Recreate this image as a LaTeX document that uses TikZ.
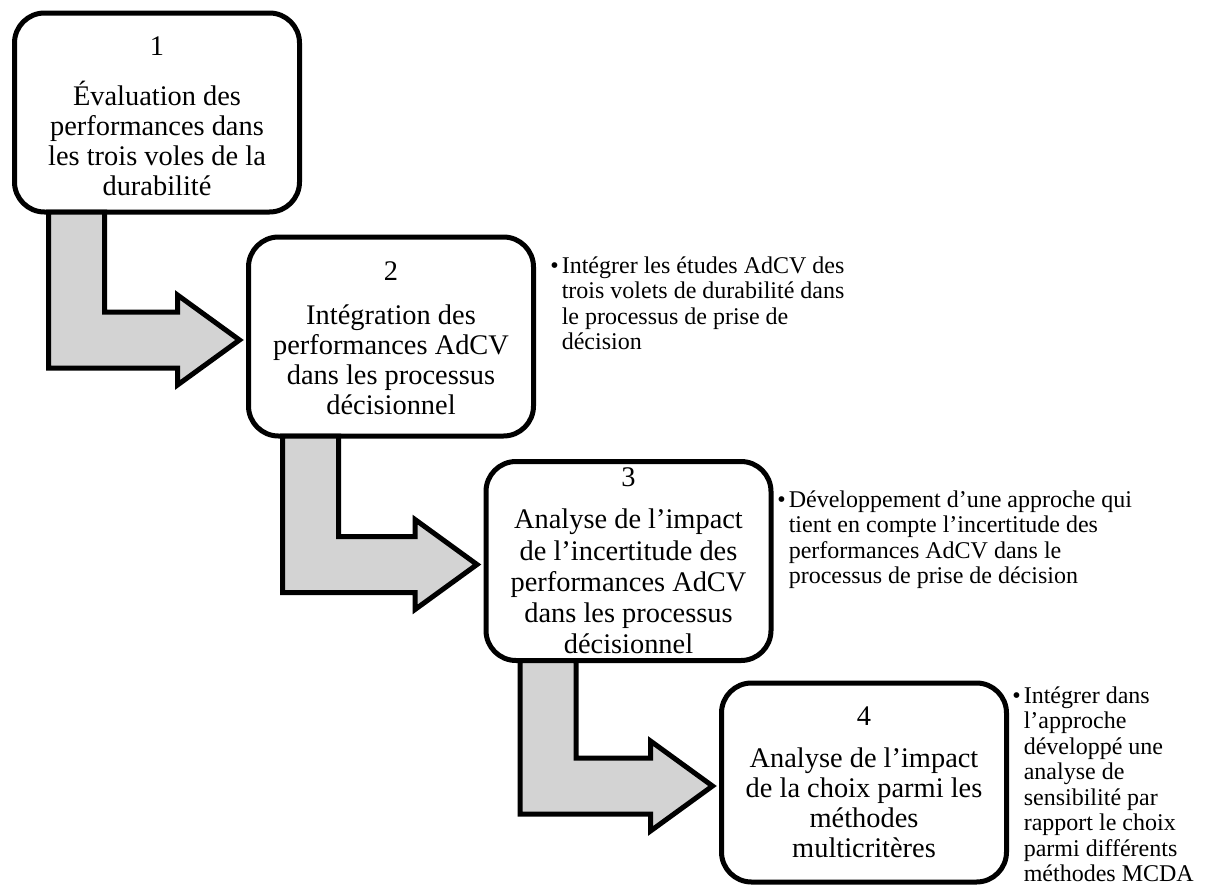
\documentclass[tikz,border=0pt]{standalone}
\usepackage{fontspec}
\setmainfont{Liberation Serif}
\usetikzlibrary{calc}
\definecolor{arrowfill}{RGB}{211,211,211}
\tikzset{
  stagebox/.style={draw, line width=2.5pt, rounded corners=15pt, fill=white,
    minimum width=142.5pt, minimum height=99.5pt, inner sep=0pt, outer sep=0pt},
  stagetext/.style={align=center, inner sep=0pt, font=\fontsize{14.2}{15}\selectfont},
  notetext/.style={anchor=north west, inner sep=0pt, font=\fontsize{12}{12.75}\selectfont},
  stagearrow/.style={draw, line width=2.5pt, fill=arrowfill, line join=miter},
}
% bent block arrow from the bottom of one stage to the left side of the next
\newcommand\stagelink[2]{%
  \draw[stagearrow] let \p1=(#1.south west), \p2=(#2.west) in
    (\x1+17pt,\y1) -- (\x1+17pt,\y2-15.75pt) -- (\x2-35.5pt,\y2-15.75pt)
    -- (\x2-35.5pt,\y2-24.25pt) -- (\x2-4.5pt,\y2-1.75pt)
    -- (\x2-35.5pt,\y2+20.75pt) -- (\x2-35.5pt,\y2+12.25pt)
    -- (\x1+45pt,\y2+12.25pt) -- (\x1+45pt,\y1) -- cycle;}
\begin{document}
\begin{tikzpicture}[x=0.5pt, y=-0.5pt]
\useasboundingbox (0,0) rectangle (1215,894);

% stages
\node[stagebox] (b1) at (157,112.5) {};
\node[stagebox] (b2) at (391,336.5) {};
\node[stagebox] (b3) at (628.5,561) {};
\node[stagebox] (b4) at (864,782.5) {};

% arrows between stages
\stagelink{b1}{b2}
\stagelink{b2}{b3}
\stagelink{b3}{b4}

% stage captions
\node[stagetext] (t1) at ([yshift=-2pt]b1.center) {1\\[10pt]Évaluation des\\performances dans\\les trois voles de la\\durabilité};
\node[stagetext] (t2) at ([yshift=-1pt]b2.center) {2\\[7pt]Intégration des\\performances AdCV\\dans les processus\\décisionnel};
\node[stagetext, font=\fontsize{14.2}{15.6}\selectfont] (t3) at (b3.center) {3\\[5.5pt]Analyse de l’impact\\de l’incertitude des\\performances AdCV\\dans les processus\\décisionnel};
\node[stagetext] (t4) at (b4.center) {4\\[6pt]Analyse de l’impact\\de la choix parmi les\\méthodes\\multicritères};

% side notes
\node[notetext] (n2) at (550,255) {\begin{tabular}{@{}l@{\hspace{1.5pt}}l@{}}
  •&Intégrer les études AdCV des\\
  &trois volets de durabilité dans\\
  &le processus de prise de\\
  &décision\end{tabular}};
\node[notetext] (n3) at (777,489) {\begin{tabular}{@{}l@{\hspace{1.5pt}}l@{}}
  •&Développement d’une approche qui\\
  &tient en compte l’incertitude des\\
  &performances AdCV dans le\\
  &processus de prise de décision\end{tabular}};
\node[notetext] (n4) at (1012,685) {\begin{tabular}{@{}l@{\hspace{1.5pt}}l@{}}
  •&Intégrer dans\\
  &l’approche\\
  &développé une\\
  &analyse de\\
  &sensibilité par\\
  &rapport le choix\\
  &parmi différents\\
  &méthodes MCDA\end{tabular}};
\end{tikzpicture}
\end{document}
